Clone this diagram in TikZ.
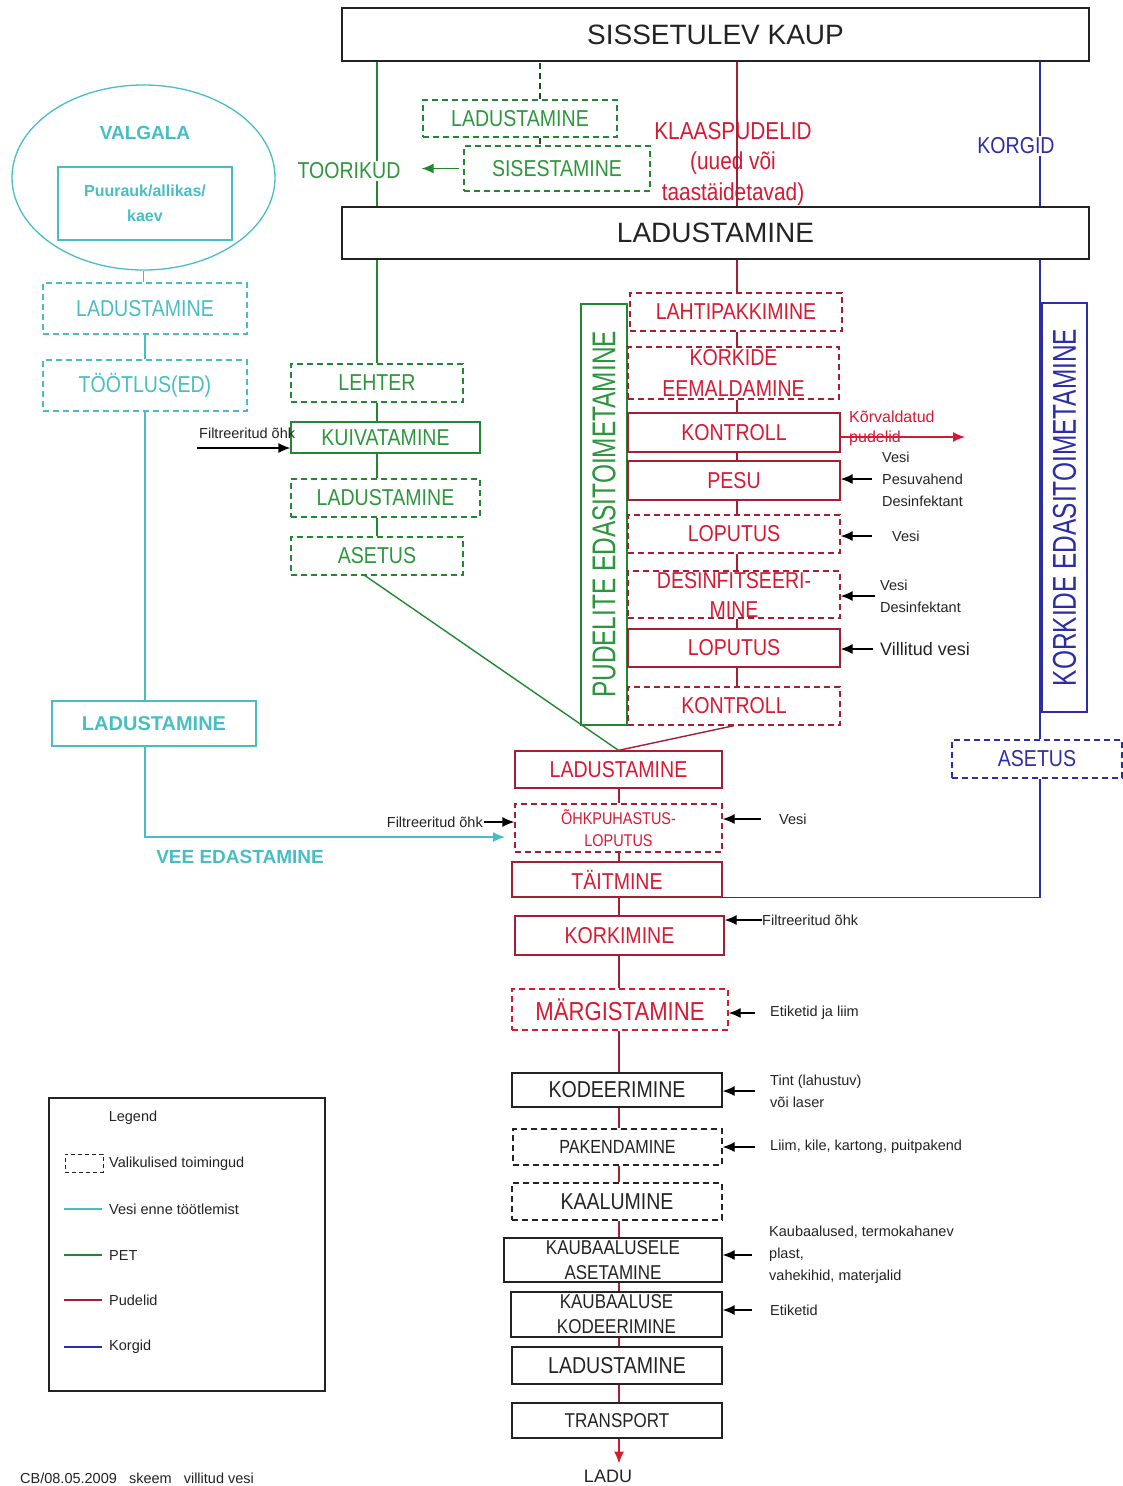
\documentclass[tikz,border=0pt]{standalone}
\usepackage{fontspec}
\setmainfont{Liberation Sans}
\newfontfamily\narrowsf[FakeStretch=0.85]{Liberation Sans}
\newfontfamily\condsf[FakeStretch=0.74]{Liberation Sans}
\usetikzlibrary{arrows.meta}
\usetikzlibrary{shapes.geometric}
\definecolor{waterc}{RGB}{70,190,195}
\definecolor{petc}{RGB}{35,135,50}
\definecolor{pettext}{RGB}{45,150,60}
\definecolor{bottleline}{RGB}{165,30,50}
\definecolor{bottletext}{RGB}{215,25,50}
\definecolor{capc}{RGB}{45,45,165}
\definecolor{plainc}{RGB}{35,35,35}
\tikzset{%
  >={Latex[width=10pt,length=12pt]},
  % Specifications for style of nodes:
            base/.style = {rectangle, draw, line width=1.3pt, inner sep=0pt,
                           align=center, font=\narrowsf\fontsize{23}{29}\selectfont},
        optional/.style = {dash pattern=on 6pt off 4pt},
        waterbox/.style = {base, draw=waterc, text=waterc},
          petbox/.style = {base, draw=petc, text=pettext},
       bottlebox/.style = {base, draw=bottleline, text=bottletext},
        plainbox/.style = {base, draw=plainc, text=plainc},
          capbox/.style = {base, draw=capc, text=capc},
            note/.style = {inner sep=0pt, align=left, text=plainc,
                           font=\fontsize{14.5}{22}\selectfont},
  % Specifications for style of connectors:
       waterline/.style = {draw=waterc, line width=1.4pt},
         petline/.style = {draw=petc, line width=1.4pt},
      bottleline/.style = {draw=bottleline, line width=1.4pt},
         capline/.style = {draw=capc, line width=1.4pt},
         inarrow/.style = {->, draw=black, line width=1.3pt, shorten <=10pt}
}

\begin{document}
\begin{tikzpicture}[x=1pt, y=-1pt]
  \useasboundingbox (0,0) rectangle (1123,1486);
  % Incoming goods and main storage
  \node (sisse)     [plainbox, minimum width=747, minimum height=53, font=\fontsize{28}{34}\selectfont] at (715.5,34.5) {SISSETULEV KAUP};
  \node (ladubig)   [plainbox, minimum width=747, minimum height=52, font=\fontsize{28}{34}\selectfont] at (715.5,233) {LADUSTAMINE};
  \coordinate (redcol) at (737,0);
  \coordinate (capcol) at (1040,0);
  \coordinate (lowcol) at (619,0);

  % Water
  \node (valgala)   [ellipse, draw=waterc, line width=1.3pt, minimum width=263, minimum height=185, inner sep=0pt] at (143.5,177.5) {};
  \node (valgtxt)   [text=waterc, font=\bfseries\fontsize{19}{23}\selectfont] at (145,133) {VALGALA};
  \node (puurauk)   [waterbox, minimum width=174, minimum height=73, font=\bfseries\fontsize{16}{25}\selectfont] at (145,203.5) {Puurauk/allikas/\\kaev};
  \node (wladu1)    [waterbox, optional, minimum width=204, minimum height=51] at (145,308.5) {LADUSTAMINE};
  \node (tootlus)   [waterbox, optional, minimum width=204, minimum height=51] at (145,385.5) {TÖÖTLUS(ED)};
  \node (wladu2)    [waterbox, minimum width=204, minimum height=45, font=\bfseries\fontsize{20}{24}\selectfont] at (154,723.5) {LADUSTAMINE};
  \node (veetxt)    [text=waterc, font=\bfseries\fontsize{19}{23}\selectfont] at (240,857) {VEE EDASTAMINE};
  \coordinate (veeend) at (505,837);
  \draw[waterline]  (valgala.south) -- (valgala.south |- wladu1.north);
  \draw[waterline]  (wladu1) -- (tootlus);
  \draw[waterline]  (tootlus.south) -- (tootlus.south |- wladu2.north);
  \draw[waterline, ->] (tootlus.south |- wladu2.south) |- (veeend);

  % PET
  \node (gladu1)    [petbox, optional, minimum width=194, minimum height=37] at (520,118.5) {LADUSTAMINE};
  \node (sisest)    [petbox, optional, minimum width=186, minimum height=45] at (557,168.5) {SISESTAMINE};
  \node (lehter)    [petbox, optional, minimum width=172, minimum height=38] at (377,383) {LEHTER};
  \node (kuiv)      [petbox, minimum width=189, minimum height=31] at (385.5,437.5) {KUIVATAMINE};
  \node (gladu2)    [petbox, optional, minimum width=189, minimum height=38] at (385.5,498) {LADUSTAMINE};
  \node (gasetus)   [petbox, optional, minimum width=172, minimum height=38] at (377,556) {ASETUS};
  \node (pudeli)    [petbox, rotate=90, minimum width=421, minimum height=46, font=\condsf\fontsize{33}{36}\selectfont] at (604,514.5) {PUDELITE EDASITOIMETAMINE};
  \draw[petline]    (sisse.south -| lehter) -- (ladubig.north -| lehter);
  \draw[petline]    (ladubig.south -| lehter) -- (lehter.north);
  \draw[petline]    (lehter.south) -- (lehter.south |- kuiv.north);
  \draw[petline]    (lehter.south |- kuiv.south) -- (lehter.south |- gladu2.north);
  \draw[petline]    (lehter.south |- gladu2.south) -- (gasetus.north);
  \draw[petc!60!black, line width=1.2pt, optional] ([xshift=20pt]gladu1.north) -- ([xshift=20pt]gladu1.north |- sisse.south);
  \draw[petc!60!black, line width=1.2pt, optional] ([xshift=20pt]gladu1.south) -- ([xshift=20pt]gladu1.south |- sisest.north);
  \node (toorikud)  [fill=white, inner sep=2pt, text=pettext, font=\narrowsf\fontsize{23}{29}\selectfont] at (349,171) {TOORIKUD};
  \draw[petline, ->, shorten <=4pt, shorten >=19pt] (sisest.west) -- (sisest.west -| toorikud.east);
  \coordinate (filt1in) at (197,448);
  \node (filt1)     [note, anchor=west] at (199,433) {Filtreeritud õhk};
  \draw[inarrow, shorten <=0pt] (filt1in) -- (filt1in -| kuiv.west);

  % Bottles
  \node (klaas)     [align=center, text=bottletext, font=\narrowsf\fontsize{24.5}{30.5}\selectfont] at (733,163.5) {KLAASPUDELID\\(uued või\\taastäidetavad)};
  \node (lahti)     [bottlebox, optional, minimum width=212, minimum height=38] at (736,312) {LAHTIPAKKIMINE};
  \node (korkeem)   [bottlebox, optional, minimum width=211, minimum height=52, font=\narrowsf\fontsize{23}{31}\selectfont] at (733.5,373) {KORKIDE\\EEMALDAMINE};
  \node (kontroll1) [bottlebox, minimum width=212, minimum height=39] at (734,432.5) {KONTROLL};
  \node (pesu)      [bottlebox, minimum width=212, minimum height=39] at (734,480.5) {PESU};
  \node (loputus1)  [bottlebox, optional, minimum width=212, minimum height=38] at (734,534) {LOPUTUS};
  \node (desinf)    [bottlebox, optional, minimum width=212, minimum height=47] at (734,594.5) {DESINFITSEERI-\\MINE};
  \node (loputus2)  [bottlebox, minimum width=212, minimum height=38] at (734,648) {LOPUTUS};
  \node (kontroll2) [bottlebox, optional, minimum width=212, minimum height=38] at (734,706) {KONTROLL};
  \draw[bottleline] (sisse.south -| redcol) -- (ladubig.north -| redcol);
  \draw[bottleline] (ladubig.south -| redcol) -- (lahti.north -| redcol);
  \draw[bottleline] (lahti.south -| redcol) -- (korkeem.north -| redcol);
  \draw[bottleline] (korkeem.south -| redcol) -- (kontroll1.north -| redcol);
  \draw[bottleline] (kontroll1.south -| redcol) -- (pesu.north -| redcol);
  \draw[bottleline] (pesu.south -| redcol) -- (loputus1.north -| redcol);
  \draw[bottleline] (loputus1.south -| redcol) -- (desinf.north -| redcol);
  \draw[bottleline] (desinf.south -| redcol) -- (loputus2.north -| redcol);
  \draw[bottleline] (loputus2.south -| redcol) -- (kontroll2.north -| redcol);
  \coordinate (reject) at (965,437);
  \node (rejtxt)    [note, anchor=west, text=bottletext, font=\fontsize{16}{20}\selectfont] at (849,428) {Kõrvaldatud\\pudelid};
  \draw[bottleline, ->, draw=bottletext] (kontroll1.east |- reject) -- (reject);
  \node (pesuin)    [note, anchor=west] at (882,479) {Vesi\\Pesuvahend\\Desinfektant};
  \node (vesi1)     [note, anchor=west] at (892,536) {Vesi};
  \node (desinfin)  [note, anchor=west] at (880,596) {Vesi\\Desinfektant};
  \node (villin)    [note, anchor=west, font=\fontsize{18}{22}\selectfont] at (880,649) {Villitud vesi};
  \draw[inarrow]    (pesuin.west) -- (pesuin.west -| pesu.east);
  \draw[inarrow, shorten <=20pt] (vesi1.west) -- (vesi1.west -| loputus1.east);
  \draw[inarrow, shorten <=5pt] (desinfin.west) -- (desinfin.west -| desinf.east);
  \draw[inarrow, shorten <=7pt] (villin.west) -- (villin.west -| loputus2.east);

  % Filling line
  \node (ladu2)     [bottlebox, minimum width=207, minimum height=37] at (618.5,769.5) {LADUSTAMINE};
  \node (ohk)       [bottlebox, optional, minimum width=207, minimum height=48, font=\narrowsf\fontsize{17}{22}\selectfont] at (618.5,828) {ÕHKPUHASTUS-\\LOPUTUS};
  \node (taitmine)  [bottlebox, minimum width=210, minimum height=35] at (617,879.5) {TÄITMINE};
  \node (korkimine) [bottlebox, minimum width=209, minimum height=39] at (619.5,935.5) {KORKIMINE};
  \node (margist)   [bottlebox, optional, draw=bottletext, minimum width=216, minimum height=41, font=\narrowsf\fontsize{26}{30}\selectfont] at (620,1009.5) {MÄRGISTAMINE};
  \node (kodeer)    [plainbox, minimum width=210, minimum height=34] at (617,1090) {KODEERIMINE};
  \node (pakend)    [plainbox, optional, minimum width=209, minimum height=36, font=\narrowsf\fontsize{19}{24}\selectfont] at (617.5,1147) {PAKENDAMINE};
  \node (kaalu)     [plainbox, optional, minimum width=210, minimum height=37] at (617,1201.5) {KAALUMINE};
  \node (kaubaase)  [plainbox, minimum width=218, minimum height=44, font=\narrowsf\fontsize{20}{25}\selectfont] at (613,1260) {KAUBAALUSELE\\ASETAMINE};
  \node (kaubakod)  [plainbox, minimum width=211, minimum height=45, font=\narrowsf\fontsize{20}{25}\selectfont] at (616.5,1314.5) {KAUBAALUSE\\KODEERIMINE};
  \node (ladu3)     [plainbox, minimum width=210, minimum height=37] at (617,1365.5) {LADUSTAMINE};
  \node (transport) [plainbox, minimum width=210, minimum height=35, font=\narrowsf\fontsize{20}{24}\selectfont] at (617,1420.5) {TRANSPORT};
  \node (ladu)      [text=plainc, inner sep=0pt, font=\fontsize{18}{22}\selectfont] at (608,1476) {LADU};
  \draw[petline]    ([xshift=-12pt]gasetus.south) -- (ladu2.north);
  \draw[bottleline] (kontroll2.south) -- (ladu2.north);
  \draw[bottleline] (ladu2.south -| lowcol) -- (ohk.north -| lowcol);
  \draw[bottleline] (ohk.south -| lowcol) -- (taitmine.north -| lowcol);
  \draw[bottleline] (taitmine.south -| lowcol) -- (korkimine.north -| lowcol);
  \draw[bottleline] (korkimine.south -| lowcol) -- (margist.north -| lowcol);
  \draw[bottleline] (margist.south -| lowcol) -- (kodeer.north -| lowcol);
  \draw[bottleline] (kodeer.south -| lowcol) -- (pakend.north -| lowcol);
  \draw[bottleline] (pakend.south -| lowcol) -- (kaalu.north -| lowcol);
  \draw[bottleline] (kaalu.south -| lowcol) -- (kaubaase.north -| lowcol);
  \draw[bottleline] (kaubaase.south -| lowcol) -- (kaubakod.north -| lowcol);
  \draw[bottleline] (kaubakod.south -| lowcol) -- (ladu3.north -| lowcol);
  \draw[bottleline] (ladu3.south -| lowcol) -- (transport.north -| lowcol);
  \draw[bottleline, ->, draw=bottletext, shorten >=6pt] (transport.south -| lowcol) -- (ladu.north -| lowcol);
  \node (filt2)     [note, anchor=east] at (483,822) {Filtreeritud õhk};
  \node (vesi2)     [note, anchor=west] at (779,819) {Vesi};
  \node (filt3)     [note, anchor=west] at (762,920) {Filtreeritud õhk};
  \node (etik1)     [note, anchor=west] at (770,1013) {Etiketid ja liim};
  \node (tint)      [note, anchor=west] at (770,1091) {Tint (lahustuv)\\või laser};
  \node (liim)      [note, anchor=west] at (770,1147) {Liim, kile, kartong, puitpakend};
  \node (kauba)     [note, anchor=west] at (769,1255) {Kaubaalused, termokahanev\\plast,\\vahekihid, materjalid};
  \node (etik2)     [note, anchor=west] at (770,1310) {Etiketid};
  \draw[inarrow, shorten <=1pt] (filt2.east) -- (filt2.east -| ohk.west);
  \draw[inarrow, shorten <=18pt] (vesi2.west) -- (vesi2.west -| ohk.east);
  \draw[inarrow, shorten <=0pt] (filt3.west) -- (filt3.west -| korkimine.east);
  \draw[inarrow, shorten <=15pt] (etik1.west) -- (etik1.west -| margist.east);
  \draw[inarrow, shorten <=15pt] (tint.west) -- (tint.west -| kodeer.east);
  \draw[inarrow, shorten <=15pt] (liim.west) -- (liim.west -| pakend.east);
  \draw[inarrow, shorten <=17pt] (kauba.west) -- (kauba.west -| kaubaase.east);
  \draw[inarrow, shorten <=18pt] (etik2.west) -- (etik2.west -| kaubakod.east);

  % Caps
  \node (korkbox)   [capbox, rotate=90, minimum width=409, minimum height=45, font=\condsf\fontsize{33}{36}\selectfont] at (1064.5,507.5) {KORKIDE EDASITOIMETAMINE};
  \node (asetusb)   [capbox, optional, minimum width=170, minimum height=38] at (1037,759) {ASETUS};
  \draw[capline]    (sisse.south -| capcol) -- (ladubig.north -| capcol);
  \draw[capline]    (ladubig.south -| capcol) -- (asetusb.north -| capcol);
  \draw[capline]    (asetusb.south -| capcol) |- (taitmine.south east);
  \node (korgid)    [fill=white, inner sep=2pt, text=capc, font=\narrowsf\fontsize{23}{29}\selectfont] at (1016,146) {KORGID};

  % Legend
  \node (legend)    [draw=plainc, line width=1.1pt, minimum width=276, minimum height=293, inner sep=0pt] at (187,1244.5) {};
  \node (lgtitle)   [note] at (133,1118) {Legend};
  \node (lgdash)    [draw=plainc, line width=1pt, dash pattern=on 4pt off 3pt, minimum width=38, minimum height=18, inner sep=0pt] at (84,1163) {};
  \node (lg1)       [note, anchor=west] at (109,1164) {Valikulised toimingud};
  \node (lg2)       [note, anchor=west] at (109,1209) {Vesi enne töötlemist};
  \node (lg3)       [note, anchor=west] at (109,1255) {PET};
  \node (lg4)       [note, anchor=west] at (109,1300) {Pudelid};
  \node (lg5)       [note, anchor=west] at (109,1347) {Korgid};
  \draw[waterline]  ([xshift=-7pt]lg2.west) -- ++(-38,0);
  \draw[petline]    ([xshift=-7pt]lg3.west) -- ++(-38,0);
  \draw[bottleline] ([xshift=-7pt]lg4.west) -- ++(-38,0);
  \draw[capline]    ([xshift=-7pt]lg5.west) -- ++(-38,0);
  \node (footer)    [note, anchor=south west] at (20,1484) {CB/08.05.2009 \ \ skeem \ \ villitud vesi};
\end{tikzpicture}
\end{document}
